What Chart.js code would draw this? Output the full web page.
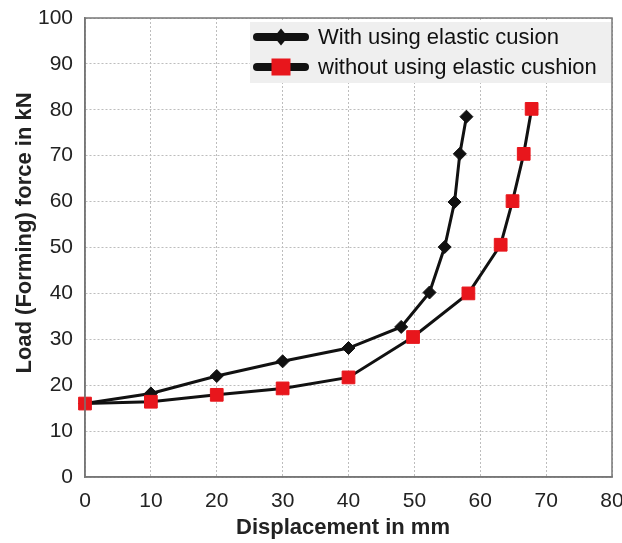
<!DOCTYPE html>
<html>
<head>
<meta charset="utf-8">
<script src="https://cdn.jsdelivr.net/npm/chart.js@4/dist/chart.umd.min.js"></script>
<style>
html,body{margin:0;padding:0;background:#fff;}
#wrap{width:622px;height:543px;position:relative;}
</style>
</head>
<body>
<div id="wrap"><canvas id="c" width="622" height="543"></canvas></div>
<script>
const withX = [0, 10, 20, 30, 40, 48, 52.3, 54.6, 56.1, 56.9, 57.9];
const withY = [16, 18.2, 22, 25.2, 28.1, 32.7, 40.2, 50.1, 59.9, 70.4, 78.5];
const withoutX = [0, 10, 20, 30, 40, 49.8, 58.2, 63.1, 64.9, 66.6, 67.8];
const withoutY = [16, 16.4, 17.9, 19.3, 21.7, 30.5, 40, 50.6, 60.1, 70.4, 80.2];
const xTicks = [0, 10, 20, 30, 40, 50, 60, 70, 80];
const yTicks = [0, 10, 20, 30, 40, 50, 60, 70, 80, 90, 100];
const seriesNames = ['With using elastic cusion', 'without using elastic cushion'];
const xTitle = 'Displacement in mm';
const yTitle = 'Load (Forming) force in kN';

const FONT = "'Liberation Sans', Arial, sans-serif";

const legendPlugin = {
  id: 'boxLegend',
  afterDraw(chart) {
    const ctx = chart.ctx;
    const ca = chart.chartArea;
    const x0 = 250, y0 = 22, w = ca.right - 1 - 250, h = 61;
    ctx.save();
    ctx.fillStyle = '#efefef';
    ctx.fillRect(x0, y0, w, h);
    const rows = [
      {y: 37, name: seriesNames[0], type: 'diamond'},
      {y: 67, name: seriesNames[1], type: 'square'}
    ];
    rows.forEach(r => {
      ctx.strokeStyle = '#111';
      ctx.lineWidth = 8;
      ctx.lineCap = 'round';
      ctx.beginPath();
      ctx.moveTo(257, r.y);
      ctx.lineTo(305, r.y);
      ctx.stroke();
      const cx = 281;
      if (r.type === 'diamond') {
        ctx.fillStyle = '#111';
        ctx.beginPath();
        ctx.moveTo(cx, r.y - 8.5);
        ctx.lineTo(cx + 7, r.y);
        ctx.lineTo(cx, r.y + 8.5);
        ctx.lineTo(cx - 7, r.y);
        ctx.closePath();
        ctx.fill();
      } else {
        ctx.fillStyle = '#e8161c';
        ctx.fillRect(cx - 9.5, r.y - 8.5, 19, 17);
      }
      ctx.fillStyle = '#111';
      ctx.font = "22px " + FONT;
      ctx.textBaseline = 'middle';
      ctx.textAlign = 'left';
      ctx.fillText(r.name, 318, r.y + 1);
    });
    ctx.restore();
  }
};

const frame = {
  id: 'frame',
  afterDraw(chart) {
    const ctx = chart.ctx, ca = chart.chartArea;
    ctx.save();
    ctx.strokeStyle = '#777';
    ctx.lineWidth = 1.5;
    ctx.strokeRect(ca.left, ca.top, ca.right - ca.left, ca.bottom - ca.top);
    ctx.fillStyle = '#222';
    ctx.font = "bold 22px " + FONT;
    ctx.textAlign = 'center';
    ctx.textBaseline = 'middle';
    ctx.fillText(xTitle, 343, 528);
    ctx.translate(25, 233);
    ctx.rotate(-Math.PI / 2);
    ctx.fillText(yTitle, 0, 0);
    ctx.restore();
  }
};

new Chart(document.getElementById('c'), {
  type: 'scatter',
  data: {
    datasets: [
      {
        label: seriesNames[0],
        data: withX.map((x, i) => ({x: x, y: withY[i]})),
        showLine: true,
        borderColor: '#111',
        borderWidth: 3,
        backgroundColor: '#111',
        pointStyle: 'rectRot',
        pointRadius: 6.5,
        pointBorderWidth: 1,
        pointBorderColor: '#111',
        order: 1
      },
      {
        label: seriesNames[1],
        data: withoutX.map((x, i) => ({x: x, y: withoutY[i]})),
        showLine: true,
        borderColor: '#111',
        borderWidth: 3,
        backgroundColor: '#e8161c',
        pointStyle: 'rect',
        pointRadius: 9,
        pointBorderWidth: 1,
        pointBorderColor: '#e8161c',
        order: 0
      }
    ]
  },
  options: {
    responsive: false,
    animation: false,
    clip: false,
    layout: {padding: {top: 18, right: 0, left: 0, bottom: 0}},
    plugins: {legend: {display: false}, tooltip: {enabled: false}},
    scales: {
      x: {
        type: 'linear', min: 0, max: 80,
        afterBuildTicks(s) { s.ticks = xTicks.map(v => ({value: v})); },
        afterFit(s) { s.height = 66; s.paddingRight = 9; s.paddingLeft = 0; },
        grid: {color: '#bdbdbd', lineWidth: 1, drawTicks: false},
        border: {display: true, color: '#777', width: 1.5, dash: [2, 2]},
        ticks: {color: '#222', font: {size: 21, family: FONT}, padding: 12},
        title: {display: false}
      },
      y: {
        type: 'linear', min: 0, max: 100,
        afterBuildTicks(s) { s.ticks = yTicks.map(v => ({value: v})); },
        afterFit(s) { s.width = 85; s.paddingTop = 0; s.paddingBottom = 0; },
        grid: {color: '#bdbdbd', lineWidth: 1, drawTicks: false},
        border: {display: true, color: '#777', width: 1.5, dash: [2, 2]},
        ticks: {color: '#222', font: {size: 21, family: FONT}, padding: 12},
        title: {display: false}
      }
    }
  },
  plugins: [frame, legendPlugin]
});
</script>
</body>
</html>
